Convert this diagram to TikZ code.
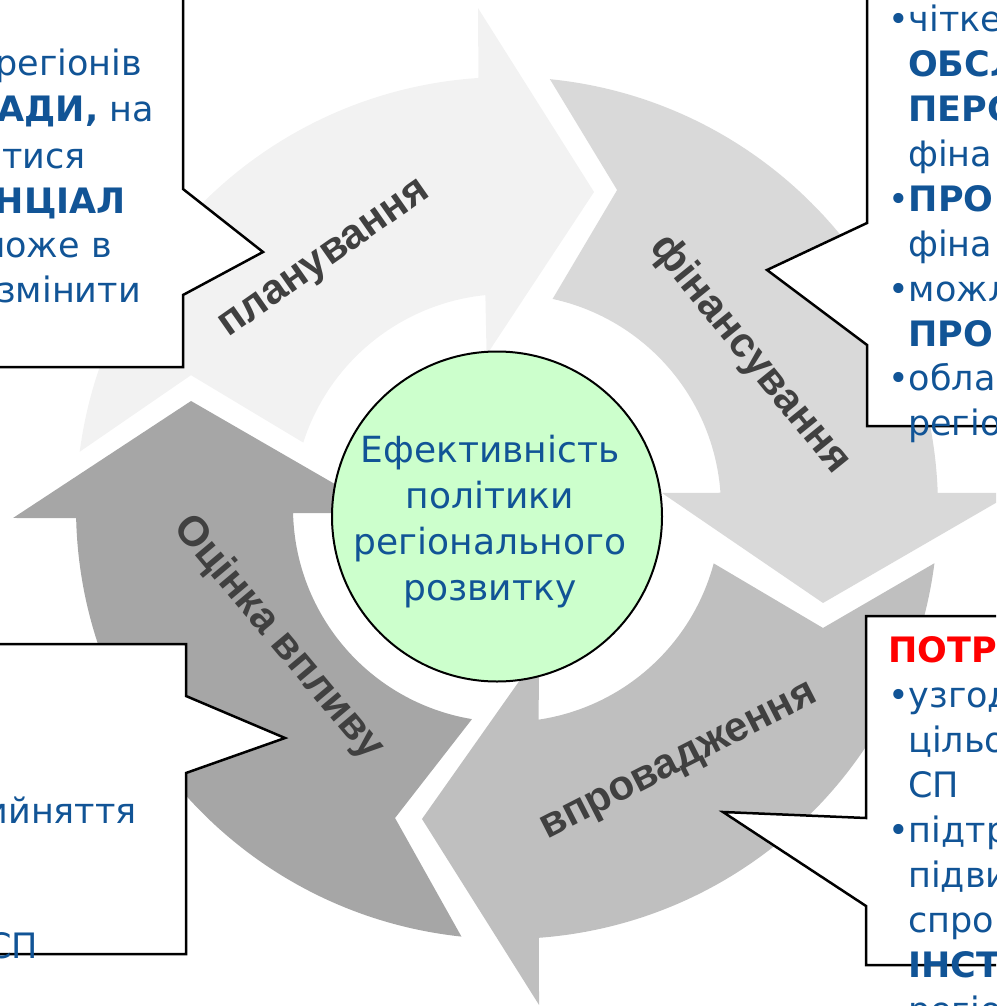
\documentclass[tikz,border=0pt]{standalone}
\usepackage{fontspec}
\setmainfont{DejaVu Sans}
\newfontfamily\labfont{Liberation Sans}
\definecolor{txtblue}{RGB}{17,84,150}
\definecolor{labgray}{HTML}{404040}
\definecolor{arrA}{HTML}{F2F2F2}
\definecolor{arrB}{HTML}{D9D9D9}
\definecolor{arrC}{HTML}{BFBFBF}
\definecolor{arrD}{HTML}{A6A6A6}
\definecolor{hubgreen}{HTML}{CCFFCC}
\definecolor{alertred}{HTML}{FF0000}
\begin{document}
\begin{tikzpicture}[x=1pt,y=1pt,
  lab/.style={font=\labfont\bfseries\fontsize{42}{50}\selectfont, text=labgray, inner sep=0pt},
  callbox/.style={draw=black, line width=2.5pt, fill=white, line join=miter},
  ctext/.style={font=\fontsize{35}{45}\selectfont, text=txtblue, inner sep=0pt},
  hubtxt/.style={font=\fontsize{36}{46}\selectfont, text=txtblue, inner sep=0pt, align=center}
]
\useasboundingbox (0,0) rectangle (996,-1006);
\clip (0,0) rectangle (996,-1006);

% ring of four block arrows, centred at pixel (507,508)
\begin{scope}[shift={(507,-508)}]
  % planning
  \fill[arrA] (172.5:431) arc[start angle=172.5, end angle=93.8, radius=431pt]
     -- (93.32:500.8) -- (74.6:327.8) -- (97.6:154.4) -- (95.8:214)
     arc[start angle=95.8, end angle=162.2, radius=214pt]
     -- (157.2:342.8) -- cycle;
  % financing
  \fill[arrB] (84.29:431) arc[start angle=84.29, end angle=2.0, radius=431pt]
     -- (1.7:506.2) -- (-16.73:330) -- (5.53:155.7) -- (4.09:214)
     arc[start angle=4.09, end angle=77.7, radius=214pt]
     -- (70.9:336.5) -- cycle;
  % implementation
  \fill[arrC] (-7.36:431) arc[start angle=-7.36, end angle=-85.77, radius=431pt]
     -- (-86.31:498) -- (-105.29:322.4) -- (-77.55:148.5) -- (-81.5:214)
     arc[start angle=-81.5, end angle=-15.0, radius=214pt]
     -- (-20.79:338) -- cycle;
  % evaluation
  \fill[arrD] (263.93:431) arc[start angle=263.93, end angle=181.34, radius=431pt]
     -- (181.16:494.1) -- (161.29:333.6) -- (182.35:122.1) -- (181.37:214)
     arc[start angle=181.37, end angle=260.58, radius=214pt]
     -- (250.14:329.6) -- cycle;
\end{scope}

% arrow labels
\node[lab, rotate=35] (lplan) at (326,-261) {планування};
\node[lab, rotate=-51] (lfin) at (750,-355) {фінансування};
\node[lab, rotate=27] (limpl) at (680,-764) {впровадження};
\node[lab, rotate=-50] (leval) at (278,-638) {Оцінка впливу};

% central circle
\node[circle, draw=black, line width=2pt, fill=hubgreen, minimum size=330pt, inner sep=0pt] (hub) at (497,-516.5) {};
\node[hubtxt] (hubtext) at (490,-522) {Ефективність\\політики\\регіонального\\розвитку};

% top-left callout
\draw[callbox] (-30,30) -- (183,30) -- (183,-189) -- (263,-252) -- (183,-295) -- (183,-367) -- (-30,-367);
\node[ctext, anchor=base east] (tl1) at (142,-76) {регіонів};
\node[ctext, anchor=base east] (tl2) at (154,-122) {\textbf{АДИ,} на};
\node[ctext, anchor=base east] (tl3) at (86,-168) {итися};
\node[ctext, anchor=base east] (tl4) at (126,-213) {\textbf{НЦІАЛ}};
\node[ctext, anchor=base east] (tl5) at (112,-257) {може в};
\node[ctext, anchor=base east] (tl6) at (141,-302) {змінити};

% top-right callout
\draw[callbox] (867,30) -- (867,-223) -- (767,-270) -- (867,-345) -- (867,-426) -- (1030,-426);
\node[ctext, anchor=base west] (tr1) at (888,-32) {•чітке};
\node[ctext, anchor=base west] (tr2) at (908,-77) {\textbf{ОБСЛ}};
\node[ctext, anchor=base west] (tr3) at (908,-122) {\textbf{ПЕРС}};
\node[ctext, anchor=base west] (tr4) at (908,-166) {фіна};
\node[ctext, anchor=base west] (tr5) at (888,-211) {•\textbf{ПРО}};
\node[ctext, anchor=base west] (tr6) at (908,-256) {фіна};
\node[ctext, anchor=base west] (tr7) at (888,-301) {•можл};
\node[ctext, anchor=base west] (tr8) at (908,-346) {\textbf{ПРО}};
\node[ctext, anchor=base west] (tr9) at (888,-390) {•обла};
\node[ctext, anchor=base west] (tr10) at (908,-435) {регіо};

% bottom-left callout
\draw[callbox] (-30,-644) -- (186,-644) -- (186,-696) -- (285,-738) -- (186,-773) -- (186,-954) -- (-30,-954);
\node[ctext, anchor=base east] (bl1) at (137,-823) {ийняття};
\node[ctext, anchor=base east] (bl2) at (38,-958) {СП};

% bottom-right callout
\draw[callbox] (1030,-616) -- (866,-616) -- (866,-818) -- (723,-812) -- (866,-906) -- (866,-965) -- (1030,-965);
\node[ctext, anchor=base west, text=alertred] (br1) at (888,-662) {\textbf{ПОТР}};
\node[ctext, anchor=base west] (br2) at (888,-707) {•узгод};
\node[ctext, anchor=base west] (br3) at (908,-752) {цільо};
\node[ctext, anchor=base west] (br4) at (908,-797) {СП};
\node[ctext, anchor=base west] (br5) at (888,-842) {•підтр};
\node[ctext, anchor=base west] (br6) at (908,-887) {підви};
\node[ctext, anchor=base west] (br7) at (908,-932) {спро};
\node[ctext, anchor=base west] (br8) at (908,-977) {\textbf{ІНСТ}};
\node[ctext, anchor=base west] (br9) at (908,-1022) {регіо};
\end{tikzpicture}
\end{document}
